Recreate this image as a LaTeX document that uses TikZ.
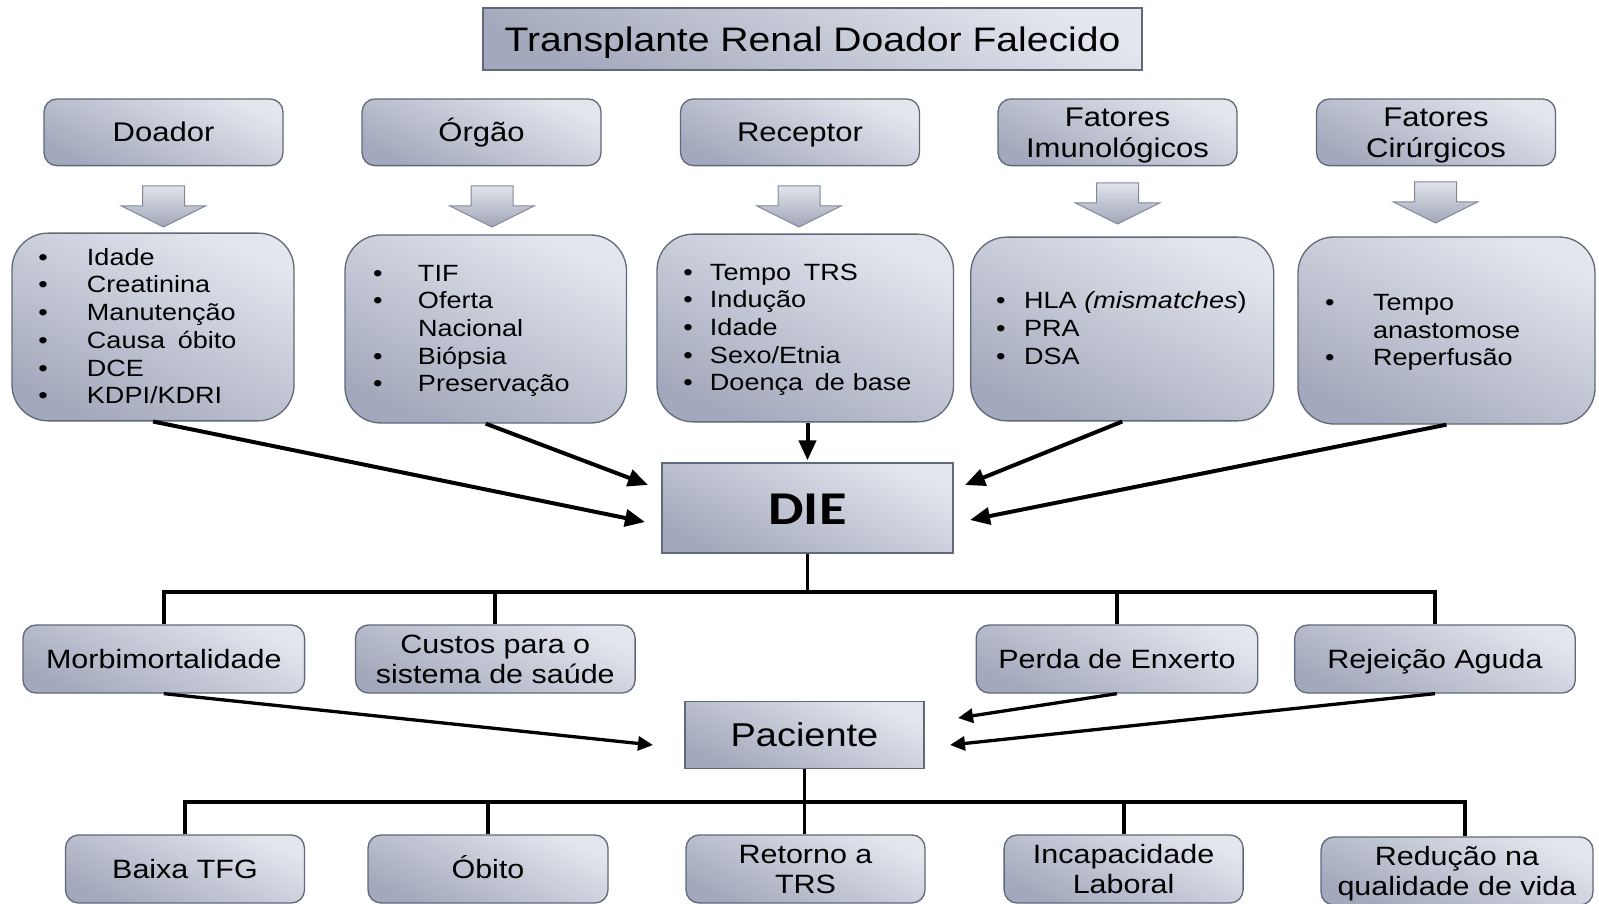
\documentclass[tikz,border=0pt]{standalone}
\usepackage{fontspec}
\setmainfont{Liberation Sans}[FakeStretch=1.15]
\newfontfamily\diefont{Carlito}[FakeStretch=1.2]
\usetikzlibrary{arrows.meta,calc}
\definecolor{boxlight}{RGB}{228,230,238}
\definecolor{boxdark}{RGB}{163,169,188}
\definecolor{boxborder}{RGB}{96,104,122}
\definecolor{arrlight}{RGB}{224,227,235}
\definecolor{arrdark}{RGB}{160,166,184}
\definecolor{arrborder}{RGB}{130,136,152}
\newcommand\myTitleFont{\fontsize{34}{38}\selectfont}
\newcommand\myHeadFont{\fontsize{27}{31}\selectfont}
\newcommand\myListFont{\fontsize{23.5}{27.7}\selectfont}
\newcommand\myRowFont{\fontsize{26.5}{30.5}\selectfont}
\newcommand\myBul[1]{\makebox[#1][l]{•}}
\newcommand\myTop{\rule{0pt}{26pt}}
\newcommand\myBlockArrow[2]{%
  \draw[barrow] (#1-21,#2) -- (#1+21,#2) -- (#1+21,#2+20) -- (#1+42,#2+20)
    -- (#1,#2+41) -- (#1-42,#2+20) -- (#1-21,#2+20) -- cycle;}
\begin{document}
\begin{tikzpicture}[x=1pt,y=-1pt,
  base/.style={draw=boxborder, line width=1.3pt, top color=boxlight, bottom color=boxdark, shading angle=-25, inner sep=0pt, text=black},
  vfix/.style 2 args={execute at begin node={\rule{0pt}{#1}}, execute at end node={\rule[-#2]{0pt}{0pt}}},
  sqbox/.style={base},
  rbox/.style={base, rounded corners=13pt, vfix={26pt}{6.8pt}},
  lbox/.style={base, rounded corners=36pt, font=\myListFont, align=left, vfix={20.5pt}{5.5pt}},
  barrow/.style={draw=arrborder, line width=1pt, top color=arrlight, bottom color=arrdark},
  arr/.style={line width=4pt, -{Triangle[length=20pt,width=17pt]}},
  arrb/.style={line width=3.3pt, -{Triangle[length=15pt,width=14pt]}},
  bus/.style={line width=3.8pt}
]
\useasboundingbox (0,0) rectangle (1599,904);

% title
\node[sqbox, vfix={34pt}{8pt}, minimum width=659pt, minimum height=62pt, font=\myTitleFont] (title) at (812.5,39) {Transplante Renal Doador Falecido};

% headers
\node[rbox, minimum width=239pt, minimum height=66.7pt, font=\myHeadFont, align=center] (hdoador) at (163.5,132.3) {Doador};
\node[rbox, minimum width=239pt, minimum height=66.7pt, font=\myHeadFont, align=center] (horgao) at (481.5,132.3) {Órgão};
\node[rbox, minimum width=239pt, minimum height=66.7pt, font=\myHeadFont, align=center] (hreceptor) at (800,132.3) {Receptor};
\node[rbox, minimum width=239pt, minimum height=66.7pt, font=\myHeadFont, align=center] (himuno) at (1117.5,132.3) {\myTop Fatores\\Imunológicos};
\node[rbox, minimum width=239pt, minimum height=66.7pt, font=\myHeadFont, align=center] (hcirurg) at (1436,132.3) {\myTop Fatores\\Cirúrgicos};

% block arrows
\myBlockArrow{163.5}{186}
\myBlockArrow{492}{186}
\myBlockArrow{799}{186}
\myBlockArrow{1117.5}{183}
\myBlockArrow{1435.5}{182}

% lists
\node[lbox, minimum width=282pt, minimum height=187.7pt, inner xsep=26.3pt, text width=229.4pt] (ldoador) at (153,327)
 {\myBul{48.7pt}Idade\\ \myBul{48.7pt}Creatinina\\ \myBul{48.7pt}Manutenção\\ \myBul{48.7pt}Causa\hspace{5pt} óbito\\ \myBul{48.7pt}DCE\\ \myBul{48.7pt}KDPI/KDRI};
\node[lbox, minimum width=281.5pt, minimum height=188pt, inner xsep=28pt, text width=225.5pt] (lorgao) at (485.75,329)
 {\myBul{45pt}TIF\\ \myBul{45pt}Oferta\\ \hspace*{45pt}Nacional\\ \myBul{45pt}Biópsia\\ \myBul{45pt}Preservação};
\node[lbox, minimum width=296.5pt, minimum height=187.7pt, inner xsep=26.3pt, text width=243.9pt] (lreceptor) at (805.25,328)
 {\myBul{26.7pt}Tempo\hspace{5pt} TRS\\ \myBul{26.7pt}Indução\\ \myBul{26.7pt}Idade\\ \myBul{26.7pt}Sexo/Etnia\\ \myBul{26.7pt}Doença\hspace{4pt} de base};
\node[lbox, minimum width=303pt, minimum height=183.7pt, inner xsep=25.3pt, text width=252.4pt] (limuno) at (1122.25,329)
 {\myBul{28pt}HLA \textit{(mismatches})\\ \myBul{28pt}PRA\\ \myBul{28pt}DSA};
\node[lbox, minimum width=297pt, minimum height=187pt, inner xsep=27pt, text width=243pt] (lcirurg) at (1446.5,330.5)
 {\myBul{48pt}Tempo\\ \hspace*{48pt}anastomose\\ \myBul{48pt}Reperfusão};

% DIE
\node[sqbox, vfix={36pt}{2.6pt}, minimum width=291pt, minimum height=90pt, font=\diefont\bfseries\fontsize{47}{50}\selectfont] (die) at (807.5,508) {DIE};

% arrows into DIE
\coordinate (e1) at (645,522);
\coordinate (e2) at (648,485);
\coordinate (e4) at (965,485);
\coordinate (e5) at (970,520);
\draw[arr] (ldoador.south) -- (e1);
\draw[arr] (lorgao.south) -- (e2);
\draw[arr, shorten >=2pt] (lreceptor.south -| die.north) -- (die.north);
\draw[arr] (limuno.south) -- (e4);
\draw[arr] (lcirurg.south) -- (e5);

% second row
\node[rbox, minimum width=281.6pt, minimum height=68pt, font=\myRowFont, align=center] (morbi) at (163.8,659) {Morbimortalidade};
\node[rbox, minimum width=279.6pt, minimum height=68pt, font=\myRowFont, align=center] (custos) at (495.3,659) {\myTop Custos para o\\sistema de saúde};
\node[rbox, minimum width=281.6pt, minimum height=68pt, font=\myRowFont, align=center] (perda) at (1117,659) {Perda de Enxerto};
\node[rbox, minimum width=280.6pt, minimum height=68pt, font=\myRowFont, align=center] (rejeicao) at (1435,659) {Rejeição Aguda};

\coordinate (bus1) at (0,591.7);
\draw[bus] (die.south) -- (die.south |- bus1);
\draw[bus] (morbi.north) |- (rejeicao.north |- bus1) -- (rejeicao.north);
\draw[bus] (custos.north) -- (custos.north |- bus1);
\draw[bus] (perda.north) -- (perda.north |- bus1);

% Paciente
\node[sqbox, vfix={31pt}{8.2pt}, minimum width=239pt, minimum height=67pt, font=\fontsize{33}{36}\selectfont] (paciente) at (804.5,735.3) {Paciente};
\coordinate (p1) at (653,745);
\coordinate (p2) at (958,718);
\coordinate (p3) at (950,745);
\draw[arrb] (morbi.south) -- (p1);
\draw[arrb] (perda.south) -- (p2);
\draw[arrb] (rejeicao.south) -- (p3);

% bottom row
\node[rbox, minimum width=239pt, minimum height=68pt, font=\myRowFont, align=center] (baixa) at (185,869) {Baixa TFG};
\node[rbox, minimum width=240pt, minimum height=68pt, font=\myRowFont, align=center] (obito) at (488,869) {Óbito};
\node[rbox, minimum width=239pt, minimum height=68pt, font=\myRowFont, align=center] (retorno) at (805.5,869) {\myTop Retorno a\\TRS};
\node[rbox, minimum width=239pt, minimum height=68pt, font=\myRowFont, align=center] (incap) at (1123.6,869) {\myTop Incapacidade\\Laboral};
\node[rbox, minimum width=272pt, minimum height=68pt, font=\myRowFont, align=center] (reducao) at (1457,871) {\myTop Redução na\\qualidade de vida};

\coordinate (bus2) at (0,801.7);
\draw[bus] (paciente.south) -- (paciente.south |- retorno.north);
\draw[bus] (baixa.north) |- ([xshift=8pt]reducao.north |- bus2) -- ([xshift=8pt]reducao.north);
\draw[bus] (obito.north) -- (obito.north |- bus2);
\draw[bus] (incap.north) -- (incap.north |- bus2);
\end{tikzpicture}
\end{document}
